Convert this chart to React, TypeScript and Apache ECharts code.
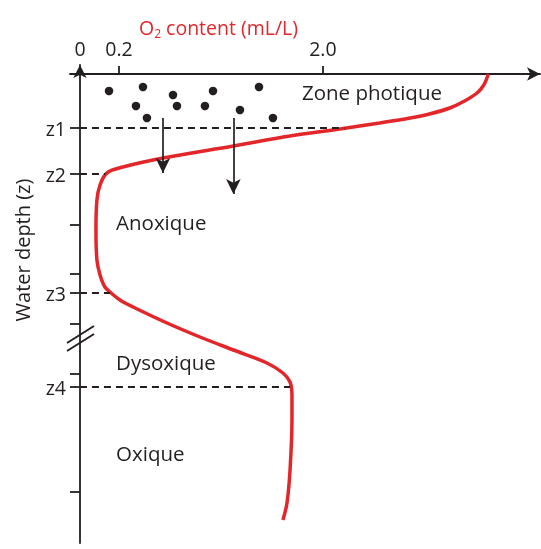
import { useEffect, useRef } from 'react';
import * as echarts from 'echarts';

// ---- axis ticks ----
const o2TickValues = [0, 0.2, 2.0];
const o2TickLabels = ['0', '0.2', '2.0'];
const depthTickValues = [10.8, 20, 30.2, 40, 43.8, 50, 60, 62.6, 83.6];
const depthTickLabels = ['z1', 'z2', '', '', 'z3', '', '', 'z4', ''];

// ---- O2 profile (mL/L) versus water depth (schematic units) ----
const profileDepth = [0, 2.2, 3.8, 5.4, 6.8, 8, 8.8, 9.8, 11, 12.4, 14.4, 16.8, 18.6, 19.8, 22.2, 25.2, 31.2, 37.2, 40.2, 42.6, 43.8, 45.2, 46.6, 49.8, 52.6, 55.2, 57.8, 59.8, 61.6, 64.2, 69.2, 79.2, 85.8, 89.2];
const profileO2 = [3.46, 3.42, 3.36, 3.25, 3.12, 2.94, 2.77, 2.5, 2.15, 1.71, 1.21, 0.59, 0.235, 0.138, 0.103, 0.087, 0.082, 0.087, 0.103, 0.128, 0.16, 0.209, 0.324, 0.624, 0.915, 1.21, 1.506, 1.647, 1.71, 1.727, 1.727, 1.71, 1.683, 1.647];

// ---- zone boundaries (dashed lines end on the profile) ----
const boundaryDepth = [10.8, 20, 43.8, 62.6];
const boundaryO2 = [2.19, 0.13, 0.154, 1.71];

// ---- plankton in the photic zone ----
const planktonO2 = [0.149, 0.412, 0.35, 0.677, 0.712, 0.447, 1.03, 0.959, 1.268, 1.436, 1.559];
const planktonDepth = [3.4, 2.6, 6.4, 4.2, 6.4, 8.8, 3.4, 6.4, 7.2, 2.6, 8.8];

// ---- sinking organic matter arrows ----
const sinkingO2 = [0.588, 1.21];
const sinkingFrom = [8.8, 8.8];
const sinkingTo = [19.8, 24];

// ---- zone names ----
const zoneNames = ['Zone photique', 'Anoxique', 'Dysoxique', 'Oxique'];
const zoneO2 = [1.815, 0.185, 0.185, 0.185];
const zoneDepth = [3.6, 29.6, 57.6, 75.8];

// schematic (broken) O2 scale: 0–0.2 mL/L is stretched
const LOW_SPAN = 0.344;
const toAxis = (o2: number) => (o2 <= 0.2 ? (o2 / 0.2) * LOW_SPAN : LOW_SPAN + (o2 - 0.2));

const INK = '#231f20';
const RED = '#e3262a';
const FONT = '"Open Sans", "Noto Sans", sans-serif';

export default function App() {
  const ref = useRef<HTMLDivElement>(null);
  useEffect(() => {
    if (!ref.current) return;
    const chart = echarts.init(ref.current, undefined, { renderer: 'svg' });
    const xTickAxis = o2TickValues.map(toAxis);
    const labelFor = (v: number, vals: number[], labels: string[]) => {
      for (let i = 0; i < vals.length; i++) if (Math.abs(vals[i] - v) < 1e-6) return labels[i];
      return '';
    };
    const depthLabelValues = depthTickValues.filter((_, i) => depthTickLabels[i] !== '');

    const option: any = {
      animation: false,
      grid: { left: 70, top: 65, right: 1, bottom: 6, containLabel: false, outerBoundsMode: 'none' },
      xAxis: {
        type: 'value',
        position: 'top',
        min: -0.088,
        max: 4.06,
        splitLine: { show: false },
        axisLine: {
          onZero: true,
          symbol: ['none', 'arrow'],
          symbolSize: [10, 13],
          lineStyle: { color: INK, width: 1.8 },
        },
        axisTick: {
          customValues: xTickAxis.slice(1),
          length: 8,
          lineStyle: { color: INK, width: 1.8 },
        },
        axisLabel: {
          customValues: xTickAxis,
          formatter: (v: number) => labelFor(v, xTickAxis, o2TickLabels),
          margin: 7,
          fontSize: 19.5,
          color: INK,
          fontFamily: FONT,
        },
      },
      yAxis: {
        type: 'value',
        inverse: true,
        min: -1.8,
        max: 93.8,
        splitLine: { show: false },
        axisLine: {
          onZero: true,
          symbol: ['none', 'arrow'],
          symbolSize: [10, 13],
          lineStyle: { color: INK, width: 1.8 },
        },
        axisTick: {
          customValues: depthTickValues,
          length: 10,
          lineStyle: { color: INK, width: 1.8 },
        },
        axisLabel: {
          customValues: depthLabelValues,
          formatter: (v: number) => labelFor(v, depthTickValues, depthTickLabels),
          margin: 4,
          fontSize: 19.5,
          color: INK,
          fontFamily: FONT,
        },
      },
      graphic: [
        {
          type: 'text',
          x: 139,
          y: 27,
          style: {
            text: '{a|O}{s|2}{a| content (mL/L)}',
            fill: RED,
            verticalAlign: 'middle',
            rich: {
              a: { fontSize: 19.5, lineHeight: 24, fill: RED, fontFamily: FONT },
              s: { fontSize: 12, lineHeight: 6, verticalAlign: 'bottom', fill: RED, fontFamily: FONT },
            },
          },
        },
        {
          type: 'text',
          x: 22,
          y: 250,
          rotation: Math.PI / 2,
          style: {
            text: 'Water depth (z)',
            fill: INK,
            fontSize: 20,
            fontFamily: FONT,
            align: 'center',
            verticalAlign: 'middle',
          },
        },
        { type: 'line', shape: { x1: 67, y1: 343, x2: 94, y2: 326 }, style: { stroke: INK, lineWidth: 2 } },
        { type: 'line', shape: { x1: 67, y1: 351, x2: 94, y2: 334 }, style: { stroke: INK, lineWidth: 2 } },
      ],
      series: [
        {
          type: 'line',
          name: 'O2',
          data: profileDepth.map((d, i) => [toAxis(profileO2[i]), d]),
          smooth: 0.35,
          showSymbol: false,
          lineStyle: { color: RED, width: 3.5 },
          z: 3,
        },
        {
          type: 'scatter',
          name: 'plankton',
          data: planktonDepth.map((d, i) => [toAxis(planktonO2[i]), d]),
          symbolSize: 8.5,
          itemStyle: { color: INK, opacity: 1 },
          z: 4,
          markLine: {
            silent: true,
            symbol: ['none', 'none'],
            label: { show: false },
            lineStyle: { color: INK, width: 1.8, type: [7, 5], opacity: 1 },
            data: boundaryDepth.map((d, i) => [
              { coord: [0, d] },
              { coord: [toAxis(boundaryO2[i]), d] },
            ]),
          },
        },
        {
          type: 'scatter',
          name: 'sinking',
          data: [],
          markLine: {
            silent: true,
            symbol: ['none', 'arrow'],
            symbolSize: [11, 15],
            label: { show: false },
            lineStyle: { color: INK, width: 1.7, type: 'solid', opacity: 1 },
            data: sinkingO2.map((x, i) => [
              { coord: [toAxis(x), sinkingFrom[i]] },
              { coord: [toAxis(x), sinkingTo[i]] },
            ]),
          },
        },
        {
          type: 'scatter',
          name: 'zones',
          data: zoneDepth.map((d, i) => ({ value: [toAxis(zoneO2[i]), d], name: zoneNames[i] })),
          symbolSize: 0,
          itemStyle: { opacity: 1 },
          label: {
            show: true,
            position: 'right',
            distance: 0,
            formatter: (p: any) => p.name,
            fontSize: 20.5,
            color: INK,
            fontFamily: FONT,
          },
          z: 5,
        },
      ],
    };
    chart.setOption(option);
    return () => chart.dispose();
  }, []);
  return <div ref={ref} style={{ position: 'fixed', left: 0, top: 0, width: 541, height: 549 }} />;
}
